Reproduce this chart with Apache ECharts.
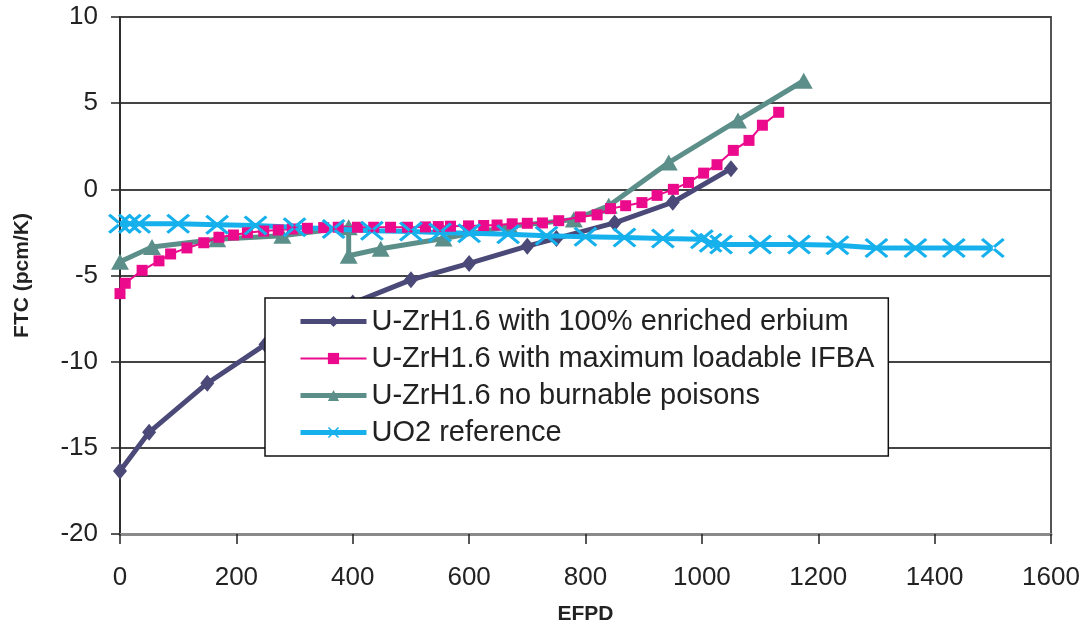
<!DOCTYPE html>
<html>
<head>
<meta charset="utf-8">
<script src="https://cdn.jsdelivr.net/npm/echarts@6/dist/echarts.min.js"></script>
<style>
html,body{margin:0;padding:0;background:#fff;}
#chart{width:1088px;height:630px;}
</style>
</head>
<body>
<div id="chart"></div>
<script>
// ---- data ----
const seriesNames = [
  'U-ZrH1.6 with 100% enriched erbium',
  'U-ZrH1.6 with maximum loadable IFBA',
  'U-ZrH1.6 no burnable poisons',
  'UO2 reference'
];
const erbiumX = [0, 50, 150, 250, 400, 500, 600, 700, 750, 850, 950, 1050];
const erbiumY = [-16.35, -14.1, -11.25, -9.0, -6.6, -5.25, -4.3, -3.3, -2.85, -1.95, -0.75, 1.2];

const ifbaX = [0, 9, 38, 67, 87, 115, 144, 170, 195, 219, 247, 272, 296, 322, 350, 375, 408, 436, 465, 494,
  525, 547, 568, 599, 625, 648, 674, 700, 726, 754, 791, 820, 843, 869, 897, 923, 951, 977, 1003, 1026,
  1054, 1081, 1104, 1132];
const ifbaY = [-6.05, -5.45, -4.7, -4.15, -3.75, -3.4, -3.1, -2.78, -2.65, -2.52, -2.42, -2.36, -2.3, -2.26,
  -2.22, -2.2, -2.2, -2.2, -2.2, -2.2, -2.18, -2.16, -2.14, -2.12, -2.1, -2.07, -2.0, -1.97, -1.95, -1.82,
  -1.6, -1.48, -1.12, -0.95, -0.77, -0.35, 0.0, 0.4, 0.94, 1.43, 2.26, 2.84, 3.72, 4.47];

const noBpX = [0, 55, 167, 279, 393, 393, 448, 556, 670, 780, 840, 943, 1062, 1175];
const noBpY = [-4.2, -3.35, -2.9, -2.7, -2.2, -3.85, -3.45, -2.85, -2.15, -1.75, -0.95, 1.55, 4.0, 6.3];

const uo2X = [0, 17, 33, 100, 167, 233, 300, 367, 433, 500, 550, 600, 667, 733, 800, 867, 933, 1000, 1015,
  1033, 1100, 1167, 1233, 1300, 1367, 1433, 1500];
const uo2Y = [-2.0, -2.0, -2.0, -2.0, -2.05, -2.1, -2.2, -2.3, -2.4, -2.45, -2.5, -2.55, -2.6, -2.7, -2.75,
  -2.8, -2.85, -2.9, -3.1, -3.2, -3.2, -3.2, -3.25, -3.4, -3.4, -3.4, -3.4];

const xTicks = {min: 0, max: 1600, step: 200};
const yTicks = {min: -20, max: 10, step: 5};

// ---- chart ----
const zip = (xs, ys) => xs.map((x, i) => [x, ys[i]]);
const FONT = 'Liberation Sans, Arial, Helvetica, sans-serif';
const crossPath = 'path://M0,1 L1,0 L10,9 L9,10 Z M10,1 L9,0 L0,9 L1,10 Z';

const colors = ['#4B4978', '#EC0A8C', '#5C8F89', '#16B1EC'];
const widths = [5, 2, 5, 5];

const chart = echarts.init(document.getElementById('chart'), null, {renderer: 'canvas'});
chart.setOption({
  animation: false,
  backgroundColor: '#fff',
  textStyle: {fontFamily: FONT},
  grid: {
    left: 120, right: 37, top: 17, bottom: 96,
    show: true, borderColor: '#555', borderWidth: 2, backgroundColor: 'transparent'
  },
  xAxis: {
    type: 'value',
    min: xTicks.min, max: xTicks.max, interval: xTicks.step,
    name: 'EFPD', nameLocation: 'middle', nameGap: 70,
    nameTextStyle: {fontFamily: FONT, fontWeight: 'bold', fontSize: 21, color: '#222'},
    axisLine: {show: true, onZero: false, lineStyle: {color: '#8a8a8a', width: 3}},
    axisTick: {show: true, inside: false, length: 10, lineStyle: {color: '#222', width: 1.5}},
    axisLabel: {fontFamily: FONT, fontSize: 26, color: '#222', margin: 31,
      formatter: v => String(v)},
    splitLine: {show: false}
  },
  yAxis: {
    type: 'value',
    min: yTicks.min, max: yTicks.max, interval: yTicks.step,
    name: 'FTC (pcm/K)', nameLocation: 'middle', nameGap: 87, nameRotate: 90,
    nameTextStyle: {fontFamily: FONT, fontWeight: 'bold', fontSize: 21, color: '#222'},
    axisLine: {show: true, lineStyle: {color: '#222', width: 1.5}},
    axisTick: {show: true, inside: false, length: 9, lineStyle: {color: '#222', width: 1.5}},
    axisLabel: {fontFamily: FONT, fontSize: 26, color: '#222', margin: 22,
      formatter: v => String(v)},
    splitLine: {show: true, lineStyle: {color: '#444', width: 1.8}}
  },
  legend: {
    show: true,
    orient: 'vertical',
    left: 265, top: 298,
    padding: [9, 14, 9, 33],
    itemWidth: 66, itemHeight: 14, itemGap: 8,
    backgroundColor: '#fff',
    borderColor: '#111', borderWidth: 1.5, borderRadius: 0,
    textStyle: {fontFamily: FONT, fontSize: 29, color: '#222', lineHeight: 28},
    data: seriesNames.map((n, i) => ({name: n, lineStyle: {width: widths[i]}}))
  },
  series: [
    {
      name: seriesNames[0], type: 'line', data: zip(erbiumX, erbiumY),
      color: colors[0],
      symbol: 'diamond', symbolSize: [14, 17],
      lineStyle: {width: widths[0], color: colors[0]},
      itemStyle: {color: colors[0]}, z: 2
    },
    {
      name: seriesNames[1], type: 'line', data: zip(ifbaX, ifbaY),
      color: colors[1],
      symbol: 'rect', symbolSize: 11,
      lineStyle: {width: widths[1], color: colors[1]},
      itemStyle: {color: colors[1]}, z: 3
    },
    {
      name: seriesNames[2], type: 'line', data: zip(noBpX, noBpY),
      color: colors[2],
      symbol: 'triangle', symbolSize: [18, 16],
      lineStyle: {width: widths[2], color: colors[2]},
      itemStyle: {color: colors[2]}, z: 2
    },
    {
      name: seriesNames[3], type: 'line', data: zip(uo2X, uo2Y),
      color: colors[3],
      symbol: crossPath, symbolSize: [24, 20],
      lineStyle: {width: widths[3], color: colors[3]},
      itemStyle: {color: colors[3]}, z: 3
    }
  ]
});
</script>
</body>
</html>
